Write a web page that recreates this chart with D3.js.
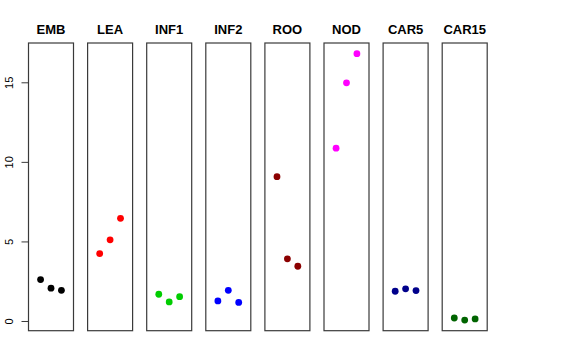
<!DOCTYPE html>
<html><head><meta charset="utf-8">
<script src="https://cdn.jsdelivr.net/npm/d3@7"></script>
<style>body{margin:0;background:#fff}svg{display:block}</style>
</head><body>
<script>
const categories = ["EMB","LEA","INF1","INF2","ROO","NOD","CAR5","CAR15"];
const colors = ["#000000","#FF0000","#00CD00","#0000FF","#8B0000","#FF00FF","#00008B","#006400"];
const values = [
  [2.60, 2.06, 1.93],
  [4.24, 5.10, 6.45],
  [1.68, 1.20, 1.53],
  [1.26, 1.93, 1.17],
  [9.07, 3.91, 3.44],
  [10.86, 14.97, 16.80],
  [1.87, 2.02, 1.91],
  [0.19, 0.06, 0.13]
];
const yTicks = [0, 5, 10, 15];

const W = 576, H = 360;
const svg = d3.select("body").append("svg").attr("width", W).attr("height", H);

const allVals = values.flat();
const ymin = d3.min(allVals), ymax = d3.max(allVals);
const ext = (ymax - ymin) * 0.04;
const y = d3.scaleLinear().domain([ymin - ext, ymax + ext]).range([330.7, 43]);

const panelW = 45, step = 59.1, x0 = 28.5;
const band = d3.scaleOrdinal().domain(categories).range(categories.map((c, i) => x0 + i * step));

categories.forEach((cat, i) => {
  const left = band(cat);
  const x = d3.scaleLinear().domain([-0.16, 4.16]).range([left, left + panelW]);
  const g = svg.append("g");
  g.append("rect").attr("x", left).attr("y", y.range()[1])
    .attr("width", panelW).attr("height", y.range()[0] - y.range()[1])
    .attr("fill", "none").attr("stroke", "#3a3a3a").attr("stroke-width", 1.2);
  g.append("text").attr("x", left + panelW / 2).attr("y", 34)
    .attr("text-anchor", "middle").attr("font-family", "Liberation Sans, Arial, sans-serif")
    .attr("font-weight", "bold").attr("font-size", 13).text(cat);
  g.selectAll("circle").data(values[i]).join("circle")
    .attr("cx", (d, j) => x(j + 1)).attr("cy", d => y(d)).attr("r", 3.4)
    .attr("fill", colors[i]);
});

const axis = d3.axisLeft(y).tickValues(yTicks).tickSize(7).tickSizeOuter(0).tickPadding(5);
const ag = svg.append("g").attr("transform", `translate(${x0},0)`).call(axis);
ag.select(".domain").remove();
ag.selectAll(".tick line").attr("stroke", "#3a3a3a");
ag.selectAll(".tick text")
  .attr("font-family", "Liberation Sans, Arial, sans-serif").attr("font-size", 11)
  .attr("fill", "#000")
  .attr("text-anchor", "middle").attr("dy", null)
  .attr("transform", "rotate(-90)")
  .attr("x", 0).attr("y", -16);
</script>
</body></html>
